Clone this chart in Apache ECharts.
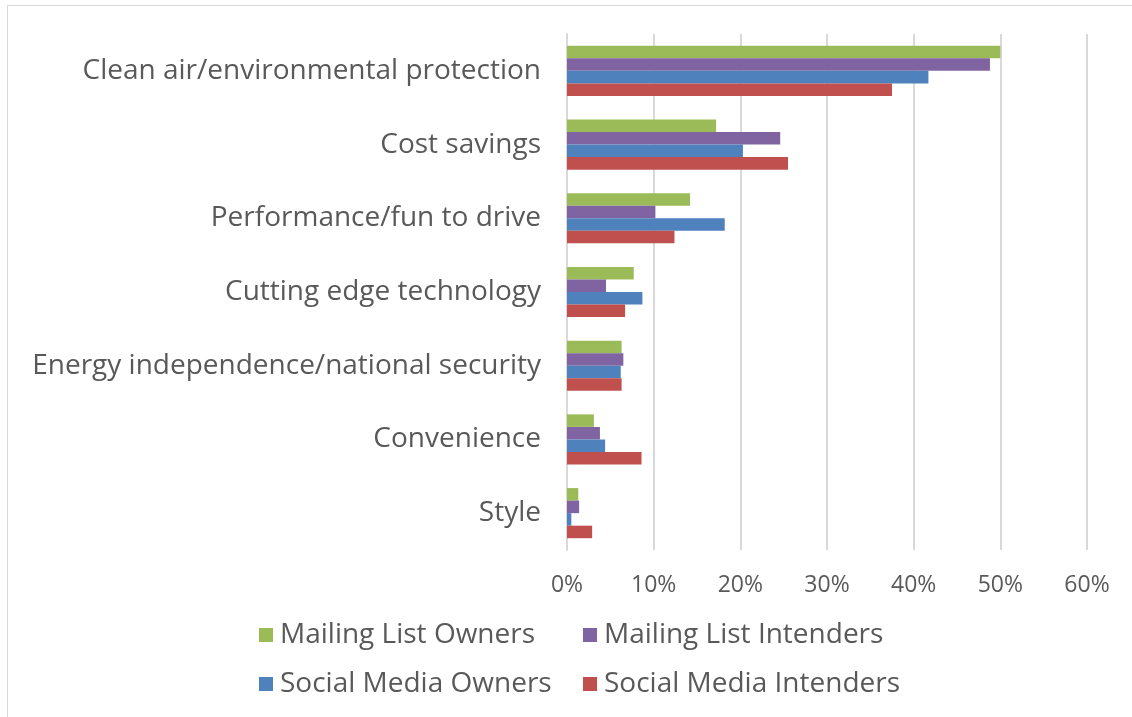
<!DOCTYPE html>
<html>
<head>
<meta charset="utf-8">
<script src="https://cdn.jsdelivr.net/npm/echarts@6/dist/echarts.min.js"></script>
<style>
  html, body { margin: 0; padding: 0; background: #fff; }
  #main { position: absolute; left: 0; top: 0; width: 1132px; height: 717px; }
  .frame { position: absolute; left: 7px; top: 5px; width: 1200px; height: 800px;
           border-left: 1px solid #d9d9d9; border-top: 1px solid #d9d9d9; pointer-events: none; }
</style>
</head>
<body>
<div id="main"></div>
<div class="frame"></div>
<script>
// categories, top to bottom
const categories = ['Clean air/environmental protection', 'Cost savings', 'Performance/fun to drive',
  'Cutting edge technology', 'Energy independence/national security', 'Convenience', 'Style'];
const seriesNames = ['Mailing List Owners', 'Mailing List Intenders', 'Social Media Owners', 'Social Media Intenders'];
// values in %
const mailingOwners = [50.0, 17.2, 14.2, 7.7, 6.3, 3.1, 1.3];
const mailingIntenders = [48.8, 24.6, 10.2, 4.5, 6.5, 3.8, 1.4];
const socialOwners = [41.7, 20.3, 18.2, 8.7, 6.2, 4.4, 0.5];
const socialIntenders = [37.5, 25.5, 12.4, 6.7, 6.3, 8.6, 2.9];
const colors = ['#9BBB59', '#8064A2', '#4F81BD', '#C0504D'];

const font = '"Open Sans", "DejaVu Sans", sans-serif';
const txt = '#595959';
const values = [mailingOwners, mailingIntenders, socialOwners, socialIntenders];

let chart = echarts.init(document.getElementById('main'));

// one legend per item so the two columns line up like the original
const legendPos = [[259, 621], [583, 621], [259, 670], [583, 670]];
let legends = seriesNames.map((name, i) => ({
  data: [name],
  left: legendPos[i][0],
  top: legendPos[i][1],
  padding: 0,
  icon: 'rect',
  itemWidth: 14,
  itemHeight: 14,
  itemGap: 0,
  selectedMode: false,
  textStyle: { fontFamily: font, fontSize: 28, color: txt, padding: [0, 0, 0, 2] }
}));

let option = {
  animation: false,
  color: colors,
  grid: { left: 567, right: 45, top: 34, bottom: 167 },
  legend: legends,
  xAxis: {
    type: 'value',
    min: 0,
    max: 60,
    interval: 10,
    axisLine: { show: false },
    axisTick: { show: false },
    splitLine: { lineStyle: { color: '#d9d9d9', width: 2 } },
    axisLabel: {
      margin: 24,
      formatter: '{value}%',
      fontFamily: font, fontSize: 23, color: txt
    }
  },
  yAxis: {
    type: 'category',
    inverse: true,
    data: categories,
    axisLine: { show: true, lineStyle: { color: '#d9d9d9', width: 2 } },
    axisTick: { show: false },
    axisLabel: { margin: 26, fontFamily: font, fontSize: 28, color: txt }
  },
  series: seriesNames.map((name, i) => ({
    name: name,
    type: 'bar',
    data: values[i],
    barGap: '0%',
    barCategoryGap: '32%',
    itemStyle: { color: colors[i] }
  }))
};
chart.setOption(option);
</script>
</body>
</html>
